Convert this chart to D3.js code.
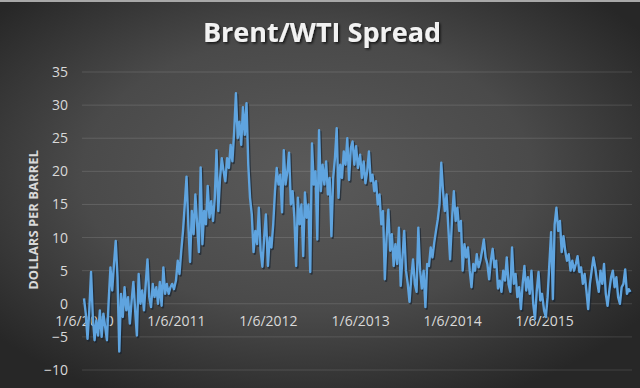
<!DOCTYPE html>
<html lang="en">
    <head>
        <meta charset="utf-8"/>
        <script src="https://d3js.org/d3.v7.min.js"></script>
        <style>
            body { margin: 0; background: #2b2b2b; }
        </style>
    </head>
    <body>
        <div id="chart"></div>
    </body>
    <script>
        // weekly Brent minus WTI, starting 1/6 of each year
        var spread2010 = [0.8, -1.5, -5.3, -1, 4.8, -2, -5.5, -2.5, -4.8, -1, -5, -1.5, -3.5, -5.5, 0.5, 5.5, 2, 6, 9.5, 4,
            -7.2, 1.5, -2, 2.5, -1, 1, -3, 0.5, 3.3, -1, -4.8, 4.5, 0, 2, -1, 3, 6.7, 1, -0.5, 3,
            1, 2.5, 0, 3.3, -0.3, 5.5, 1.5, 3, 1.5, 2.5, 3, 2.2];
        var spread2011 = [3.5, 6.5, 4.5, 8, 11, 15, 19.2, 12, 6.3, 14, 10.5, 16.5, 12, 7.8, 20.6, 9, 14, 12, 17.8, 13,
            15.5, 12.5, 16, 23.2, 14, 19, 22, 20, 18.5, 22, 20.5, 24, 21.5, 26, 31.8, 25, 27.5, 24, 29.7, 25.5,
            30.3, 21, 16, 13.5, 7.8, 11, 9, 14.5, 8, 5.6, 10, 13.5];
        var spread2012 = [5.7, 10, 8.5, 12, 17, 20.5, 18, 19.5, 13.8, 23.2, 18, 20, 22.8, 15, 17, 13, 5.7, 16, 12, 15,
            7.2, 16.8, 13, 15, 4.8, 24.2, 18, 20, 9.7, 26.2, 17, 21, 18, 21.5, 16.5, 19, 10.2, 19, 22, 26.5,
            16, 21, 19, 23, 21, 25, 18.7, 23.5, 24.5, 21, 23.8, 20.5];
        var spread2013 = [22.5, 19, 21.5, 18.2, 20, 23, 18.5, 19.5, 17, 18.5, 15, 16.5, 12, 14, 3.7, 10, 14.2, 8, 10.5, 5.7,
            9, 6, 11.5, 2.7, 7, 11, 5, 3, 0.3, 4, 6.7, 3, 1.8, 11.5, 5, 2.3, 5, -0.5, 6, 5.7,
            8.5, 7, 9.2, 11, 12.7, 15, 21.3, 17, 14, 16.5, 11.5, 6.7];
        var spread2014 = [13, 17, 12.5, 14.5, 11, 12.5, 5, 9, 7, 8.5, 5, 2.5, 6, 5, 7.5, 5.5, 6.5, 8, 9.7, 7,
            6, 3.7, 6.5, 8.3, 5.5, 6.5, 2.3, 3.5, 1.8, 5, 3.5, 7, 3, 1.8, 8.5, 3, 4.5, 1, 2.5, -0.8,
            3, 5.7, 2, 4, 1.5, 5, 0, -2.3, 2, 4.8, 0.5, 1.5];
        var spread2015 = [-1, -2, 1, 6, 10.8, 0.7, 12, 14.5, 11, 12.5, 7.8, 10.2, 8, 6.5, 7.5, 5, 6.5, 5, 6, 7.2,
            4.8, 5.5, 3, 4.5, 2, -0.8, 3, 5, 7, 5.5, 3.5, 1.8, 5, 3, 6, 1.5, -0.3, 2, 4, 5,
            2.5, 4, 1, 0, 2.5, 3, 5.2, 1.5, 2.2, 1.8];

        var years = [2010, 2011, 2012, 2013, 2014, 2015];
        var xTickLabels = ["1/6/2010", "1/6/2011", "1/6/2012", "1/6/2013", "1/6/2014", "1/6/2015"];
        var yTicks = [-10, -5, 0, 5, 10, 15, 20, 25, 30, 35];

        var W = 640, H = 388;

        var seriesByYear = [spread2010, spread2011, spread2012, spread2013, spread2014, spread2015];
        var data = [];
        seriesByYear.forEach(function (arr, j) {
            arr.forEach(function (v, k) {
                data.push({ date: d3.timeDay.offset(new Date(years[j], 0, 6), 7 * k), value: v });
            });
        });

        var svg = d3.select("#chart")
            .append("svg")
                .attr("width", W)
                .attr("height", H)
                .style("display", "block");

        var defs = svg.append("defs");
        var grad = defs.append("radialGradient")
            .attr("id", "bg")
            .attr("cx", "48%").attr("cy", "45%").attr("r", "64%");
        grad.append("stop").attr("offset", "0%").attr("stop-color", "#5a5a5a");
        grad.append("stop").attr("offset", "55%").attr("stop-color", "#4a4a4a");
        grad.append("stop").attr("offset", "100%").attr("stop-color", "#272727");

        var shadow = defs.append("filter").attr("id", "ts")
            .attr("x", "-10%").attr("y", "-20%").attr("width", "130%").attr("height", "160%");
        shadow.append("feDropShadow")
            .attr("dx", 1.5).attr("dy", 1.5).attr("stdDeviation", 1.2)
            .attr("flood-color", "#000").attr("flood-opacity", 0.7);

        svg.append("rect")
            .attr("width", W).attr("height", H)
            .attr("fill", "url(#bg)");
        svg.append("rect")
            .attr("width", W).attr("height", 2)
            .attr("fill", "#a8a8a8");

        var x = d3.scaleTime()
            .domain([new Date(2010, 0, 6), new Date(2015, 11, 21)])
            .range([84, 632]);

        var y = d3.scaleLinear()
            .domain([-10, 35])
            .range([370, 72]);

        // gridlines
        svg.append("g")
            .selectAll("line")
            .data(yTicks)
            .enter()
            .append("line")
                .attr("x1", 82)
                .attr("x2", 632)
                .attr("y1", function (d) { return y(d); })
                .attr("y2", function (d) { return y(d); })
                .attr("stroke", "#ffffff")
                .attr("stroke-opacity", 0.13)
                .attr("stroke-width", 1);

        // y axis
        var yAxis = svg.append("g")
            .attr("transform", "translate(72,0)")
            .call(d3.axisLeft(y).tickValues(yTicks).tickSize(0).tickPadding(4));
        yAxis.select(".domain").remove();
        yAxis.selectAll("text")
            .attr("fill", "#d9d9d9")
            .style("font-family", "'Open Sans', sans-serif")
            .style("font-size", "14px");

        // x axis sits on the zero line
        var xAxis = svg.append("g")
            .attr("transform", "translate(0," + y(0) + ")")
            .call(d3.axisBottom(x)
                .tickValues(years.map(function (yr) { return new Date(yr, 0, 6); }))
                .tickFormat(function (d, i) { return xTickLabels[i]; })
                .tickSize(0)
                .tickPadding(12));
        xAxis.select(".domain").remove();
        xAxis.selectAll("text")
            .attr("fill", "#d9d9d9")
            .style("font-family", "'Open Sans', sans-serif")
            .style("font-size", "14px");

        var line = d3.line()
            .x(function (d) { return x(d.date); })
            .y(function (d) { return y(d.value); });

        svg.append("path")
            .datum(data)
            .attr("d", line)
            .attr("transform", "translate(1.2,1.5)")
            .attr("fill", "none")
            .attr("stroke", "#15222f")
            .attr("stroke-opacity", 0.65)
            .attr("stroke-width", 2.6)
            .attr("stroke-linejoin", "round");

        svg.append("path")
            .datum(data)
            .attr("d", line)
            .attr("fill", "none")
            .attr("stroke", "#5fa4df")
            .attr("stroke-width", 2.4)
            .attr("stroke-linejoin", "round");

        svg.append("text")
            .attr("x", 322)
            .attr("y", 42)
            .attr("text-anchor", "middle")
            .attr("fill", "#f2f2f2")
            .attr("filter", "url(#ts)")
            .style("font-family", "'Open Sans', sans-serif")
            .style("font-weight", "bold")
            .style("font-size", "27px")
            .text("Brent/WTI Spread");

        svg.append("text")
            .attr("transform", "translate(38,220) rotate(-90)")
            .attr("text-anchor", "middle")
            .attr("fill", "#d9d9d9")
            .style("font-family", "'Open Sans', sans-serif")
            .style("font-weight", "bold")
            .style("font-size", "13px")
            .text("DOLLARS PER BARREL");
    </script>
</html>
